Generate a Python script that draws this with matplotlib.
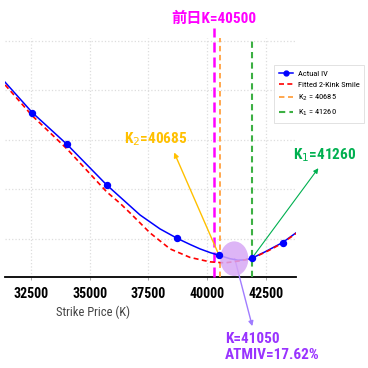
import matplotlib
matplotlib.use("Agg")
import matplotlib.pyplot as plt
from matplotlib import font_manager
from matplotlib.patches import Ellipse

_fonts = {}
for f in font_manager.fontManager.ttflist:
    w = f.weight if isinstance(f.weight, int) else (700 if 'bold' in str(f.weight) else 400)
    _fonts.setdefault(f.name, set()).add(w)

def pick(bold):
    for n in ['Liberation Sans Narrow', 'Arial Narrow', 'Roboto Condensed', 'Open Sans Condensed',
              'Archivo Narrow', 'Asap Condensed', 'Barlow Semi Condensed']:
        if n in _fonts and (not bold or max(_fonts[n]) >= 600):
            return n
    return 'DejaVu Sans'

NARROW = pick(False)
NARROW_B = pick(True)
plt.rcParams['font.family'] = [NARROW, 'Noto Sans CJK SC', 'DejaVu Sans']

# ---- data ----
strikes = [32550, 34030, 35720, 38730, 40520, 41890, 43210]
actual_iv = [32.76, 29.55, 25.45, 20.05, 18.33, 18.03, 19.63]

curve_k = [31400, 32556, 34033, 35723, 36289, 37140, 37991, 38727, 39268, 39694, 40119,
           40515, 40970, 41311, 41609, 41885, 42460, 43205, 43779]
curve_iv = [35.83, 32.76, 29.55, 25.45, 24.24, 22.42, 21.01, 20.05, 19.44, 18.99, 18.62,
            18.33, 18.00, 17.85, 17.88, 18.03, 18.69, 19.63, 20.61]

fit_k = [31400, 32543, 34033, 35723, 36289, 36714, 37565, 38417, 39268, 40119, 40757, 41396,
         41907, 42588, 43226, 43779]
fit_iv = [35.56, 32.47, 29.09, 24.75, 23.60, 22.63, 20.61, 18.99, 18.13, 17.68, 17.58, 17.78,
          18.03, 18.79, 19.60, 20.56]

prev_k_label = "前日K=40500"
k2_label = "K$_2$=40685"
k1_label = "K$_1$=41260"
atm_label = "K=41050\nATMIV=17.62%"
k2_legend = "K$_2$ = 40685"
k1_legend = "K$_1$ = 41260"

prev_k_pos = 40290
k2_pos = 40545
k1_pos = 41905

xticks = [32500, 35000, 37500, 40000, 42500]
yticks = [20, 25, 30, 35, 40]

fig = plt.figure(figsize=(3.68, 3.68), dpi=100)
ax = fig.add_axes([5/368, 1-277/368, 291/368, 239/368])

ax.set_xlim(31394, 43779)
ax.set_ylim(16.15, 40.3)

ax.plot(curve_k, curve_iv, color='blue', lw=1.1, zorder=4)
ax.plot(strikes, actual_iv, 'o', color='blue', ms=4.3, zorder=5)
ax.plot([], [], '-o', color='blue', lw=1.1, ms=3.5, label='Actual IV')
ax.plot(fit_k, fit_iv, '--', color='red', lw=1.2, dashes=(3, 2), zorder=4,
        label='Fitted 2-Kink Smile')

ax.axvline(prev_k_pos, ymax=1.042, color='#FF00FF', lw=1.8, ls=(0, (4, 2)), clip_on=False, zorder=3)
ax.axvline(k2_pos, color='#FFA040', lw=1.3, ls=(0, (3, 2)), zorder=3, label=k2_legend)
ax.axvline(k1_pos, color='#3CB043', lw=1.5, ls=(0, (3, 2)), zorder=3, label=k1_legend)

ax.add_patch(Ellipse((41150, 18.0), 1200, 3.5, color='#D8A8F5', alpha=0.85, zorder=4.5, lw=0))

ax.set_xticks(xticks)
ax.set_xticklabels([str(t) for t in xticks], fontsize=10, fontweight='bold', family=NARROW_B)
ax.set_yticks(yticks)
ax.tick_params(axis='y', left=False, labelleft=False)
ax.tick_params(axis='x', length=2, width=0.6, color='#999999', pad=5)
ax.grid(True, color='#DDDDDD', ls=':', lw=0.9)
for s in ['left', 'right', 'top']:
    ax.spines[s].set_visible(False)
ax.spines['bottom'].set_linewidth(1.3)
ax.set_xlabel('Strike Price (K)', fontsize=9, color='#444444', family=NARROW)
ax.xaxis.set_label_coords(0.302, -0.12)

bold_fam = [NARROW_B, 'Noto Sans CJK SC', 'DejaVu Sans']

# annotations
ax.text(prev_k_pos, 42.2, prev_k_label, color='#FF00FF', fontsize=11, fontweight='bold',
        ha='center', va='center', family=bold_fam)

ax.annotate('', xy=(38545, 28.99), xytext=(40530, 18.2),
            arrowprops=dict(arrowstyle='-|>', color='#FFC000', lw=1.0, mutation_scale=7),
            annotation_clip=False)
ax.text(37821, 30.1, k2_label, color='#FFC000', fontsize=11, fontweight='bold',
        ha='center', va='center', family=bold_fam)

ax.annotate('', xy=(44801, 27.37), xytext=(41928, 18.13),
            arrowprops=dict(arrowstyle='-|>', color='#00B050', lw=0.8, mutation_scale=7),
            annotation_clip=False)
ax.text(45014, 28.48, k1_label, color='#00B050', fontsize=11, fontweight='bold',
        ha='center', va='center', family=bold_fam)

ax.annotate('', xy=(41949, 10.91), xytext=(41141, 18.28),
            arrowprops=dict(arrowstyle='-|>', color='#A07CFF', lw=1.0, mutation_scale=7),
            annotation_clip=False)
ax.text(40758, 10.6, atm_label, color='#9933FF', fontsize=11, fontweight='bold',
        ha='left', va='top', linespacing=1.2, family=bold_fam)

handles, labels = ax.get_legend_handles_labels()
order = [labels.index('Actual IV'), labels.index('Fitted 2-Kink Smile'),
         labels.index(k2_legend), labels.index(k1_legend)]
leg = fig.legend([handles[i] for i in order], [labels[i] for i in order],
                 loc='upper left', bbox_to_anchor=(270/368, 1-61/368),
                 prop={'family': NARROW, 'size': 6}, handlelength=1.7, labelspacing=0.55,
                 borderpad=0.55, handletextpad=0.6, frameon=True, fancybox=False, framealpha=1,
                 edgecolor='#DDDDDD')
leg.get_frame().set_linewidth(0.6)

fig.savefig('out.png', dpi=100)
